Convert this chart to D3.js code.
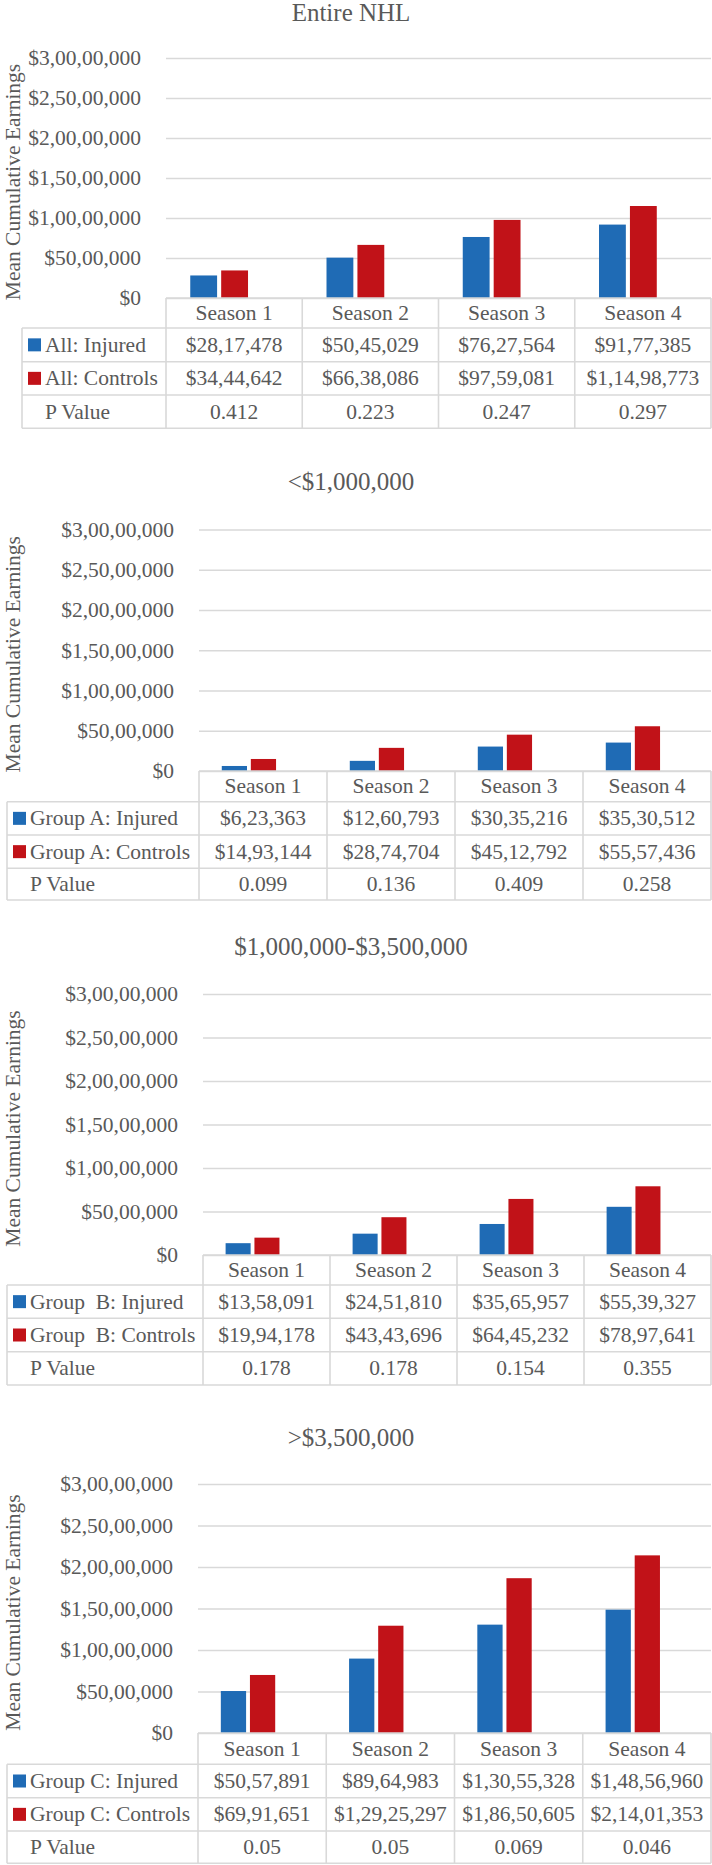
<!DOCTYPE html>
<html><head><meta charset="utf-8">
<script src="https://cdn.jsdelivr.net/npm/d3@7"></script>
<style>
html,body{margin:0;padding:0;background:#fff;}
svg{display:block;}
text{font-family:"Liberation Serif","Times New Roman",serif;fill:#595959;}
</style>
</head><body>
<svg id="c" width="712" height="1865"></svg>
<script>
// ---------------- data ----------------
const seasons = ["Season 1", "Season 2", "Season 3", "Season 4"];
const titles = ["Entire NHL", "<$1,000,000", "$1,000,000-$3,500,000", ">$3,500,000"];
const injuredLabels = ["All: Injured", "Group A: Injured", "Group  B: Injured", "Group C: Injured"];
const controlLabels = ["All: Controls", "Group A: Controls", "Group  B: Controls", "Group C: Controls"];
const pLabel = "P Value";
const injured = [
  [2817478, 5045029, 7627564, 9177385],
  [623363, 1260793, 3035216, 3530512],
  [1358091, 2451810, 3565957, 5539327],
  [5057891, 8964983, 13055328, 14856960]
];
const controls = [
  [3444642, 6638086, 9759081, 11498773],
  [1493144, 2874704, 4512792, 5557436],
  [1994178, 4343696, 6445232, 7897641],
  [6991651, 12925297, 18650605, 21401353]
];
const pValues = [
  ["0.412", "0.223", "0.247", "0.297"],
  ["0.099", "0.136", "0.409", "0.258"],
  ["0.178", "0.178", "0.154", "0.355"],
  ["0.05", "0.05", "0.069", "0.046"]
];
const yTicks = [0, 5000000, 10000000, 15000000, 20000000, 25000000, 30000000];
const yAxisTitle = "Mean Cumulative Earnings";

// ---------------- layout ----------------
const layout = [
  {titleY: 21,   top: 58,    zero: 298,  left: 166, tableLeft: 22, rows: [298, 328, 361.7, 395, 428.3],   keyX: 28, textX: 45},
  {titleY: 490,  top: 529.5, zero: 771,  left: 199, tableLeft: 7,  rows: [771, 801.7, 835, 868.3, 900],   keyX: 13, textX: 30},
  {titleY: 955,  top: 994,   zero: 1255, left: 203, tableLeft: 7,  rows: [1255, 1285, 1318.3, 1351.7, 1385], keyX: 13, textX: 30},
  {titleY: 1446, top: 1484,  zero: 1733, left: 198, tableLeft: 7,  rows: [1733, 1764.3, 1797.7, 1831, 1863.3], keyX: 13, textX: 30}
];
const RIGHT = 711;
const BLUE = "#1F6BB5", RED = "#C11218", GRID = "#d9d9d9";
const FS = "21.5px", TFS = "25px";

function inr(v) {
  const s = String(Math.round(v));
  if (s.length <= 3) return "$" + s;
  const last3 = s.slice(-3);
  let rest = s.slice(0, -3);
  const parts = [];
  while (rest.length > 2) { parts.unshift(rest.slice(-2)); rest = rest.slice(0, -2); }
  if (rest) parts.unshift(rest);
  return "$" + parts.join(",") + "," + last3;
}

const svg = d3.select("#c");
svg.append("rect").attr("width", 712).attr("height", 1865).attr("fill", "#fff");

layout.forEach((L, p) => {
  const g = svg.append("g");
  const y = d3.scaleLinear().domain([0, 30000000]).range([L.zero, L.top]);
  const x0 = d3.scaleBand().domain(seasons).range([L.left, RIGHT]).padding(0);
  const W = x0.bandwidth();
  const bw = 0.197 * W, gap = 0.03 * W, off = -0.11 * W;

  // title
  g.append("text").attr("x", 351).attr("y", L.titleY).attr("text-anchor", "middle")
    .style("font-size", TFS).text(titles[p]);

  // y axis with gridlines
  const ax = g.append("g").attr("transform", `translate(${L.left},0)`)
    .call(d3.axisLeft(y).tickValues(yTicks).tickFormat(inr).tickSize(-(RIGHT - L.left)).tickPadding(25));
  ax.select(".domain").remove();
  ax.selectAll(".tick line").attr("stroke", GRID).attr("stroke-width", 1.6);
  ax.selectAll(".tick text").attr("fill", "#595959").style("font-size", FS)
    .style("font-family", '"Liberation Serif","Times New Roman",serif');

  // y axis title
  g.append("text").attr("transform", `translate(19.5,${(L.top + L.zero) / 2 + 4}) rotate(-90)`)
    .attr("text-anchor", "middle").style("font-size", FS).text(yAxisTitle);

  // bars
  const series = [{vals: injured[p], color: BLUE, dx: -gap / 2 - bw}, {vals: controls[p], color: RED, dx: gap / 2}];
  series.forEach(s => {
    g.selectAll(null).data(seasons).enter().append("rect")
      .attr("x", (d) => x0(d) + W / 2 + off + s.dx)
      .attr("width", bw)
      .attr("y", (d, i) => y(s.vals[i]))
      .attr("height", (d, i) => L.zero - y(s.vals[i]))
      .attr("fill", s.color);
  });

  // data table
  const R = L.rows;
  const tl = g.append("g").attr("stroke", GRID).attr("stroke-width", 1.6);
  tl.append("line").attr("x1", L.left).attr("x2", RIGHT).attr("y1", R[0]).attr("y2", R[0]);
  for (let k = 1; k < R.length; k++) {
    tl.append("line").attr("x1", L.tableLeft).attr("x2", RIGHT).attr("y1", R[k]).attr("y2", R[k]);
  }
  tl.append("line").attr("x1", L.tableLeft).attr("x2", L.tableLeft).attr("y1", R[1]).attr("y2", R[4]);
  seasons.forEach(s => {
    tl.append("line").attr("x1", x0(s)).attr("x2", x0(s)).attr("y1", R[0]).attr("y2", R[4]);
  });
  tl.append("line").attr("x1", RIGHT).attr("x2", RIGHT).attr("y1", R[0]).attr("y2", R[4]);

  const mid = k => (R[k] + R[k + 1]) / 2 + 7;
  // header
  g.selectAll(null).data(seasons).enter().append("text")
    .attr("x", d => x0(d) + W / 2).attr("y", mid(0)).attr("text-anchor", "middle")
    .style("font-size", FS).text(d => d);
  // rows
  const rowsData = [
    {label: injuredLabels[p], color: BLUE, cells: injured[p].map(inr)},
    {label: controlLabels[p], color: RED, cells: controls[p].map(inr)},
    {label: pLabel, color: null, cells: pValues[p]}
  ];
  rowsData.forEach((r, k) => {
    const cy = (R[k + 1] + R[k + 2]) / 2;
    if (r.color) {
      g.append("rect").attr("x", L.keyX).attr("y", cy - 6.5).attr("width", 13).attr("height", 13).attr("fill", r.color);
    }
    g.append("text").attr("x", L.textX).attr("y", mid(k + 1)).style("font-size", FS)
      .style("white-space", "pre").attr("xml:space", "preserve").text(r.label);
    g.selectAll(null).data(r.cells).enter().append("text")
      .attr("x", (d, i) => x0(seasons[i]) + W / 2).attr("y", mid(k + 1)).attr("text-anchor", "middle")
      .style("font-size", FS).text(d => d);
  });
});
</script>
</body></html>
